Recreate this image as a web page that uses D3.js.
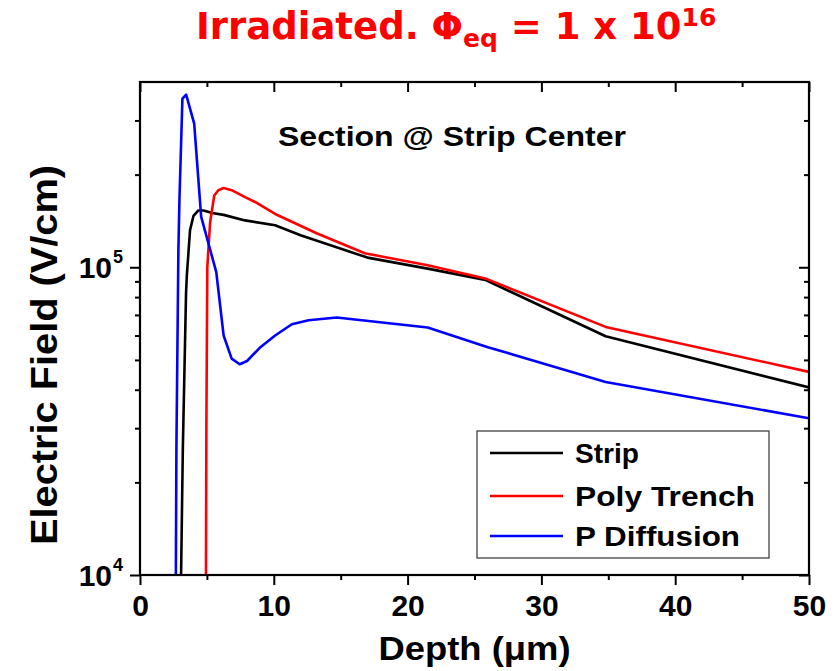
<!DOCTYPE html>
<html><head><meta charset="utf-8">
<script src="https://cdn.jsdelivr.net/npm/d3@7"></script>
<style>body{margin:0;background:#fff} svg{display:block}</style>
</head><body>
<svg id="c" width="840" height="671"></svg>
<script>
// ---- data ----
const seriesNames = ["Strip", "Poly Trench", "P Diffusion"];
const seriesColors = ["#000000", "#ff0000", "#0000ff"];

const stripDepth = [3.07, 3.2, 3.44, 3.5, 3.74, 4.0, 4.36, 4.75, 5.4, 6.25, 7.85, 10.1, 12.0, 17.0, 21.5, 25.8, 34.8, 50];
const stripField = [1.0e4, 2.55e4, 8.2e4, 9.4e4, 1.32e5, 1.47e5, 1.53e5, 1.53e5, 1.5e5, 1.48e5, 1.42e5, 1.37e5, 1.27e5, 1.075e5, 9.9e4, 9.1e4, 5.97e4, 4.07e4];

const polyDepth = [4.93, 4.96, 5.03, 5.24, 5.55, 5.85, 6.25, 6.85, 7.85, 8.6, 10.1, 13.2, 16.8, 21.5, 25.8, 34.8, 50];
const polyField = [1.0e4, 3.0e4, 1.0e5, 1.4e5, 1.71e5, 1.78e5, 1.81e5, 1.78e5, 1.69e5, 1.63e5, 1.49e5, 1.29e5, 1.11e5, 1.015e5, 9.2e4, 6.4e4, 4.57e4];

const pdiffDepth = [2.68, 2.72, 2.87, 2.95, 3.17, 3.45, 4.05, 4.57, 5.7, 6.25, 6.85, 7.45, 8.0, 9.0, 10.1, 11.35, 12.6, 14.7, 21.5, 26.0, 34.8, 50];
const pdiffField = [1.0e4, 2.55e4, 1.14e5, 1.67e5, 3.53e5, 3.64e5, 2.93e5, 1.46e5, 9.65e4, 6.0e4, 5.05e4, 4.84e4, 4.96e4, 5.5e4, 6.0e4, 6.53e4, 6.73e4, 6.87e4, 6.37e4, 5.5e4, 4.24e4, 3.23e4];

const xTicks = [0, 10, 20, 30, 40, 50];
const xMinorTicks = [5, 15, 25, 35, 45];
const yTicks = [1e4, 1e5];
const yTickExp = ["4", "5"];
const yMinorTicks = [2e4, 3e4, 4e4, 5e4, 6e4, 7e4, 8e4, 9e4, 2e5, 3e5];

const titleMain = "Irradiated. \u03A6";
const titleSub = "eq";
const titleRest = " = 1 x 10";
const titleSup = "16";
const annotation = "Section @ Strip Center";
const xLabel = "Depth (\u03BCm)";
const yLabel = "Electric Field (V/cm)";

// ---- chart ----
const svg = d3.select("#c");
const L = 140, R = 809, T = 82, B = 575;
const x = d3.scaleLinear().domain([0, 50]).range([L, R]);
const y = d3.scaleLog().domain([1e4, 4e5]).range([B, T]);
const FONT = "'Liberation Sans', Arial, sans-serif";

svg.append("defs").append("clipPath").attr("id", "clip")
  .append("rect").attr("x", L).attr("y", T).attr("width", R - L).attr("height", B - T);

const series = [
  {depth: stripDepth, field: stripField},
  {depth: polyDepth, field: polyField},
  {depth: pdiffDepth, field: pdiffField}
];
const line = d3.line().x(d => x(d[0])).y(d => y(d[1]));
const gLines = svg.append("g").attr("clip-path", "url(#clip)");
series.forEach((s, i) => {
  gLines.append("path")
    .datum(s.depth.map((d, j) => [d, s.field[j]]))
    .attr("d", line).attr("fill", "none")
    .attr("stroke", seriesColors[i]).attr("stroke-width", 2.6)
    .attr("stroke-linejoin", "round");
});

function styleAxis(g) {
  g.select(".domain").remove();
  g.selectAll("line").attr("stroke", "#000").attr("stroke-width", 2);
}
// bottom
svg.append("g").attr("transform", `translate(0,${B})`)
  .call(d3.axisBottom(x).tickValues(xTicks).tickSize(10).tickPadding(10).tickFormat(d3.format("d")))
  .call(styleAxis)
  .call(g => g.selectAll("text").attr("font-family", FONT).attr("font-weight", "bold")
    .attr("font-size", 30).attr("fill", "#000"));
svg.append("g").attr("transform", `translate(0,${B})`)
  .call(d3.axisBottom(x).tickValues(xMinorTicks).tickSize(5).tickFormat(""))
  .call(styleAxis);
// top (inward)
svg.append("g").attr("transform", `translate(0,${T})`)
  .call(d3.axisBottom(x).tickValues(xTicks).tickSize(10).tickFormat(""))
  .call(styleAxis);
svg.append("g").attr("transform", `translate(0,${T})`)
  .call(d3.axisBottom(x).tickValues(xMinorTicks).tickSize(5).tickFormat(""))
  .call(styleAxis);
// left
svg.append("g").attr("transform", `translate(${L},0)`)
  .call(d3.axisLeft(y).tickValues(yTicks).tickSize(10).tickFormat(""))
  .call(styleAxis);
svg.append("g").attr("transform", `translate(${L},0)`)
  .call(d3.axisLeft(y).tickValues(yMinorTicks).tickSize(5).tickFormat(""))
  .call(styleAxis);
// right (inward)
svg.append("g").attr("transform", `translate(${R},0)`)
  .call(d3.axisLeft(y).tickValues(yTicks).tickSize(10).tickFormat(""))
  .call(styleAxis);
svg.append("g").attr("transform", `translate(${R},0)`)
  .call(d3.axisLeft(y).tickValues(yMinorTicks).tickSize(5).tickFormat(""))
  .call(styleAxis);

// y tick labels with superscripts
yTicks.forEach((v, i) => {
  svg.append("text").attr("x", 112).attr("y", y(v) + 11)
    .attr("text-anchor", "end").attr("font-family", FONT).attr("font-weight", "bold")
    .attr("font-size", 30).text("10");
  svg.append("text").attr("x", 113).attr("y", y(v) - 4)
    .attr("font-family", FONT).attr("font-weight", "bold")
    .attr("font-size", 18).text(yTickExp[i]);
});

// frame
svg.append("rect").attr("x", L).attr("y", T).attr("width", R - L).attr("height", B - T)
  .attr("fill", "none").attr("stroke", "#000").attr("stroke-width", 2.2);

// axis titles
svg.append("text").attr("x", (L + R) / 2).attr("y", 660).attr("text-anchor", "middle")
  .attr("font-family", FONT).attr("font-weight", "bold").attr("font-size", 33)
  .attr("textLength", 192).attr("lengthAdjust", "spacingAndGlyphs").text(xLabel);
svg.append("text").attr("transform", "translate(57,355) rotate(-90)").attr("text-anchor", "middle")
  .attr("font-family", FONT).attr("font-weight", "bold").attr("font-size", 37)
  .attr("textLength", 380).attr("lengthAdjust", "spacingAndGlyphs").text(yLabel);

// annotation
svg.append("text").attr("x", 278).attr("y", 146)
  .attr("font-family", FONT).attr("font-weight", "bold").attr("font-size", 27)
  .attr("textLength", 348).attr("lengthAdjust", "spacingAndGlyphs").text(annotation);

// title
const t = svg.append("text").attr("x", 196).attr("y", 39)
  .attr("font-family", "'DejaVu Sans', sans-serif").attr("font-weight", "bold")
  .attr("font-size", 37).attr("fill", "#ff0000");
t.append("tspan").text(titleMain);
t.append("tspan").attr("font-size", 25).attr("dy", 8).text(titleSub);
t.append("tspan").attr("dy", -8).text(titleRest);
t.append("tspan").attr("font-size", 25).attr("dy", -13).text(titleSup);

// legend
const lg = svg.append("g");
lg.append("rect").attr("x", 477).attr("y", 431).attr("width", 292).attr("height", 127)
  .attr("fill", "#fff").attr("stroke", "#333").attr("stroke-width", 1.2);
const legendY = [453, 496, 536];
const legendLen = [64, 180, 165];
seriesNames.forEach((n, i) => {
  lg.append("line").attr("x1", 490).attr("x2", 563).attr("y1", legendY[i]).attr("y2", legendY[i])
    .attr("stroke", seriesColors[i]).attr("stroke-width", 2.6);
  lg.append("text").attr("x", 575).attr("y", legendY[i] + 10)
    .attr("font-family", FONT).attr("font-weight", "bold").attr("font-size", 28)
    .attr("textLength", legendLen[i]).attr("lengthAdjust", "spacingAndGlyphs").text(n);
});
</script>
</body></html>
